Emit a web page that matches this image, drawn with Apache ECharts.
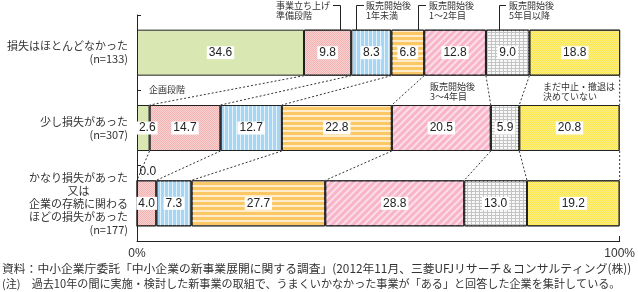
<!DOCTYPE html>
<html>
<head>
<meta charset="utf-8">
<script src="https://cdn.jsdelivr.net/npm/echarts@6/dist/echarts.min.js"></script>
<style>
html,body{margin:0;padding:0;background:#fff;}
#chart{width:638px;height:292px;}
</style>
</head>
<body>
<div id="chart"></div>
<script>
// categories (top to bottom)
var categories = [
  '損失はほとんどなかった\n(n=133)',
  '少し損失があった\n(n=307)',
  'かなり損失があった\n又は\n企業の存続に関わる\nほどの損失があった\n(n=177)'
]
var stages = ['企画段階','事業立ち上げ準備段階','販売開始後1年未満','販売開始後1～2年目','販売開始後3～4年目','販売開始後5年目以降','まだ中止・撤退は決めていない']
// values per row, in stage order (%)
var rowNone   = [34.6, 9.8, 8.3, 6.8, 12.8, 9.0, 18.8]
var rowLittle = [2.6, 14.7, 12.7, 22.8, 20.5, 5.9, 20.8]
var rowHeavy  = [0.0, 4.0, 7.3, 27.7, 28.8, 13.0, 19.2]
var rows = [rowNone, rowLittle, rowHeavy]
var xTicks = [0, 100]

var BAR = 46
var cjk = '"Noto Sans CJK JP"'

var styles = [
  {color:'#d9e7b3'},
  {color:'#f4b3b3', decal:{symbol:'rect', color:'rgba(255,255,255,0.4)', dashArrayX:[[1,1],[0,1,1,0]], dashArrayY:[1,0], symbolSize:1}},
  {color:'#a6d6f4', decal:{symbol:'rect', color:'rgba(255,255,255,0.7)', dashArrayX:[1,2.3], dashArrayY:[1,0], symbolSize:1}},
  {color:'#fcc866', decal:{symbol:'rect', color:'rgba(255,255,255,0.65)', dashArrayX:[1,0], dashArrayY:[1.2,2.3], symbolSize:1}},
  {color:'#f8b5ca', decal:{symbol:'rect', color:'rgba(255,255,255,0.55)', dashArrayX:[1,0], dashArrayY:[1.2,2.4], rotation:-Math.PI/4, symbolSize:1}},
  {color:'#c4c4c4', decal:{symbol:'rect', color:'#f8f8f8', dashArrayX:[3,1], dashArrayY:[2,1], symbolSize:1}},
  {color:'#fbe64c', decal:{symbol:'rect', color:'rgba(255,255,255,0.35)', dashArrayX:[[1,1],[0,1,1,0]], dashArrayY:[1,0], symbolSize:1}}
]

var series = stages.map(function(name, s){
  return {
    name: name,
    type: 'bar',
    stack: 'all',
    barWidth: BAR,
    data: rows.map(function(r, i){
      var item = {value: r[s]}
      if (r[s] === 0) item.label = {position:[1,-8], align:'left', verticalAlign:'middle', backgroundColor:'transparent'}
      else if (r[s] < 3) item.label = {offset:[4,0]}
      return item
    }),
    itemStyle: Object.assign({borderColor:'#222', borderWidth:1}, styles[s]),
    label: {
      show: true,
      formatter: function(p){ return p.value.toFixed(1) },
      color: '#222',
      fontSize: 12,
      fontFamily: 'Liberation Sans',
      backgroundColor: '#fff',
      padding: [1,2,0,2]
    }
  }
})

// dotted connectors between the stage boundaries of neighbouring rows
series.push({
  type: 'custom',
  silent: true,
  z: 5,
  data: [0, 1],
  renderItem: function(params, api){
    var i = api.value(0)
    var a = rows[i], b = rows[i + 1]
    var y1 = api.coord([0, i])[1] + BAR / 2
    var y2 = api.coord([0, i + 1])[1] - BAR / 2
    var ca = 0, cb = 0, kids = []
    for (var k = 0; k < a.length; k++) {
      ca += a[k]; cb += b[k]
      var x1 = api.coord([Math.min(ca, 100), i])[0]
      var x2 = api.coord([Math.min(cb, 100), i + 1])[0]
      kids.push({type:'line', shape:{x1:x1, y1:y1, x2:x2, y2:y2}, style:{stroke:'#333', lineWidth:1, lineDash:[2,2]}})
    }
    return {type:'group', children: kids}
  }
})

function note(x, y, text){
  return {type:'text', left:x, top:y, style:{text:text, font:'9px ' + cjk, fill:'#333', lineHeight:10}}
}
function leader(pts){
  return {type:'polyline', shape:{points:pts}, style:{stroke:'#222', lineWidth:1, fill:null}}
}

var chart = echarts.init(document.getElementById('chart'))
chart.setOption({
  animation: false,
  grid: {left:137, right:16, top:15, bottom:51},
  xAxis: {
    type: 'value', min: xTicks[0], max: xTicks[1], interval: 100,
    axisLine: {show:true, lineStyle:{color:'#222'}},
    axisTick: {show:true, inside:true, length:5, lineStyle:{color:'#222'}},
    splitLine: {show:false},
    axisLabel: {formatter:'{value}%', color:'#333', fontSize:12, fontFamily:'Liberation Sans', margin:7}
  },
  yAxis: {
    type: 'category', inverse: true, data: categories,
    axisLine: {show:true, lineStyle:{color:'#222'}},
    axisTick: {show:true, inside:true, length:4, lineStyle:{color:'#222'}},
    axisLabel: {
      color:'#333', fontSize:11, fontFamily:cjk, lineHeight:13, margin:9, align:'right',
      formatter: function(v){
        return v.split('\n').map(function(t){ return t === '又は' ? '{c|' + t + '}' : '{a|' + t + '}' }).join('\n')
      },
      rich: {
        a: {fontSize:11, fontFamily:cjk, color:'#333', lineHeight:13, align:'right'},
        c: {fontSize:11, fontFamily:cjk, color:'#333', lineHeight:13, align:'center'}
      }
    }
  },
  graphic: [
    note(276, 1, '事業立ち上げ\n準備段階'),
    leader([[333,5.5],[340.5,5.5],[340.5,30]]),
    note(366, 1, '販売開始後\n1年未満'),
    leader([[364,5.5],[356.5,5.5],[356.5,30]]),
    note(429, 1, '販売開始後\n1～2年目'),
    leader([[426,5.5],[418.5,5.5],[418.5,30]]),
    note(509, 1, '販売開始後\n5年目以降'),
    leader([[506,5.5],[499.5,5.5],[499.5,30]]),
    note(149, 85, '企画段階'),
    note(430, 82, '販売開始後\n3～4年目'),
    note(543, 82, 'まだ中止・撤退は\n決めていない'),
    {type:'text', left:2, top:263, style:{text:'資料：中小企業庁委託「中小企業の新事業展開に関する調査」(2012年11月、三菱UFJリサーチ＆コンサルティング(株))', font:'11.8px ' + cjk, fill:'#333'}},
    {type:'text', left:2, top:278, style:{text:'(注)　過去10年の間に実施・検討した新事業の取組で、うまくいかなかった事業が「ある」と回答した企業を集計している。', font:'11.1px ' + cjk, fill:'#333'}}
  ],
  series: series
})
window.addEventListener('resize', function(){ chart.resize() })
</script>
</body>
</html>
